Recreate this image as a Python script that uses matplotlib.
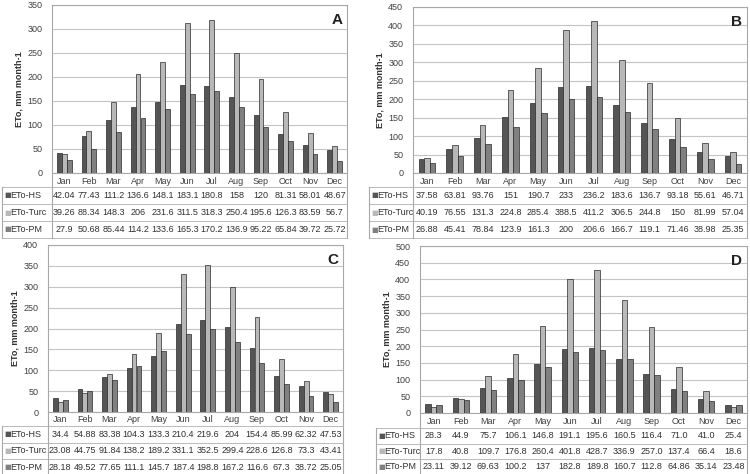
import matplotlib.pyplot as plt
import numpy as np

plt.rcParams['font.family'] = ['Liberation Sans', 'DejaVu Sans']

months = ['Jan', 'Feb', 'Mar', 'Apr', 'May', 'Jun', 'Jul', 'Aug', 'Sep', 'Oct', 'Nov', 'Dec']
series_names = ['ETo-HS', 'ETo-Turc', 'ETo-PM']

a_hs = [42.04, 77.43, 111.2, 136.6, 148.1, 183.1, 180.8, 158, 120, 81.31, 58.01, 48.67]
a_turc = [39.26, 88.34, 148.3, 206, 231.6, 311.5, 318.3, 250.4, 195.6, 126.3, 83.59, 56.7]
a_pm = [27.9, 50.68, 85.44, 114.2, 133.6, 165.3, 170.2, 136.9, 95.22, 65.84, 39.72, 25.72]

b_hs = [37.58, 63.81, 93.76, 151, 190.7, 233, 236.2, 183.6, 136.7, 93.18, 55.61, 46.71]
b_turc = [40.19, 76.55, 131.3, 224.8, 285.4, 388.5, 411.2, 306.5, 244.8, 150, 81.99, 57.04]
b_pm = [26.88, 45.41, 78.84, 123.9, 161.3, 200, 206.6, 166.7, 119.1, 71.46, 38.98, 25.35]

c_hs = [34.4, 54.88, 83.38, 104.3, 133.3, 210.4, 219.6, 204, 154.4, 85.99, 62.32, 47.53]
c_turc = [23.08, 44.75, 91.84, 138.2, 189.2, 331.1, 352.5, 299.4, 228.6, 126.8, 73.3, 43.41]
c_pm = [28.18, 49.52, 77.65, 111.1, 145.7, 187.4, 198.8, 167.2, 116.6, 67.3, 38.72, 25.05]

d_hs = [28.3, 44.9, 75.7, 106.1, 146.8, 191.1, 195.6, 160.5, 116.4, 71.0, 41.0, 25.4]
d_turc = [17.8, 40.8, 109.7, 176.8, 260.4, 401.8, 428.7, 336.9, 257.0, 137.4, 66.4, 18.6]
d_pm = [23.11, 39.12, 69.63, 100.2, 137, 182.8, 189.8, 160.7, 112.8, 64.86, 35.14, 23.48]

colors = ['#555555', '#b8b8b8', '#808080']
W, H = 750, 474

# letter, data, ymax, plot box (left, right, top, bottom px), table left px,
# month row height, data row height, number formats
panels = [
    ('A', [a_hs, a_turc, a_pm], 350, (52, 347, 5, 173), 2, 14, 17, ['g', 'g', 'g']),
    ('B', [b_hs, b_turc, b_pm], 450, (413, 747, 7, 173), 369, 14, 17, ['g', 'g', 'g']),
    ('C', [c_hs, c_turc, c_pm], 400, (48, 343, 245, 412), 2, 14, 16.5, ['g', 'g', 'g']),
    ('D', [d_hs, d_turc, d_pm], 500, (420, 747, 246, 413), 376, 15, 15.5, ['.1f', '.1f', 'g']),
]

fig = plt.figure(figsize=(7.5, 4.74), dpi=100)

for letter, data, ymax, (l, r, t, b), tl, mh, rh, fmts in panels:
    ax = fig.add_axes([l / W, 1 - b / H, (r - l) / W, (b - t) / H])
    x = np.arange(len(months))
    w = 0.2
    for i, vals in enumerate(data):
        ax.bar(x + (i - 1) * w, vals, w, color=colors[i], edgecolor='#2a2a2a', linewidth=0.5, zorder=3)
    ax.set_xlim(-0.5, 11.5)
    ax.set_ylim(0, ymax)
    ax.set_yticks(np.arange(0, ymax + 1, 50))
    ax.yaxis.grid(True, color='#c4c4c4', linewidth=0.8, zorder=0)
    ax.set_xticks([])
    ax.tick_params(axis='y', length=0, labelsize=6.5, labelcolor='#404040', pad=7)
    for s in ax.spines.values():
        s.set_color('#a8a8a8')
        s.set_linewidth(0.8)
    ax.set_ylabel('ETo, mm month-1', fontsize=6.5, fontweight='bold', color='#303030', labelpad=3)
    ax.text(0.985, 0.95, letter, transform=ax.transAxes, ha='right', va='top',
            fontsize=11, fontweight='bold', color='#202020')

    # data table under the plot
    ph = b - t
    tr = ax.get_xaxis_transform()
    xl = -0.5 + (tl - l) * 12 / (r - l)
    def yax(px):
        return -px / ph
    for j, m in enumerate(months):
        ax.text(j, yax(mh / 2 + 1), m, transform=tr, ha='center', va='center',
                fontsize=6.5, color='#404040', clip_on=False)
    bounds = [mh + k * rh for k in range(4)]
    for k, yb in enumerate(bounds):
        ax.plot([xl, 11.5], [yax(yb)] * 2, transform=tr, color='#b0b0b0', lw=0.6, clip_on=False)
    ax.plot([-0.5, -0.5], [0, yax(bounds[-1])], transform=tr, color='#a8a8a8', lw=0.8, clip_on=False)
    ax.plot([11.5, 11.5], [0, yax(bounds[-1])], transform=tr, color='#a8a8a8', lw=0.8, clip_on=False)
    ax.plot([xl, xl], [yax(bounds[0]), yax(bounds[-1])], transform=tr, color='#a8a8a8', lw=0.8, clip_on=False)
    px_to_x = 12 / (r - l)
    for i, (name, vals) in enumerate(zip(series_names, data)):
        yc = yax(mh + (i + 0.5) * rh)
        ax.text(xl + 2 * px_to_x, yc, '■', transform=tr, ha='left', va='center', fontsize=5,
                color=colors[i], family=['DejaVu Sans'], clip_on=False)
        ax.text(xl + 8 * px_to_x, yc, name, transform=tr, ha='left', va='center', fontsize=6.5,
                color='#303030', clip_on=False)
        for j, v in enumerate(vals):
            ax.text(j, yc, format(v, fmts[i]), transform=tr, ha='center', va='center',
                    fontsize=6.5, color='#303030', clip_on=False)

fig.savefig('out.png', dpi=100, facecolor='white')
